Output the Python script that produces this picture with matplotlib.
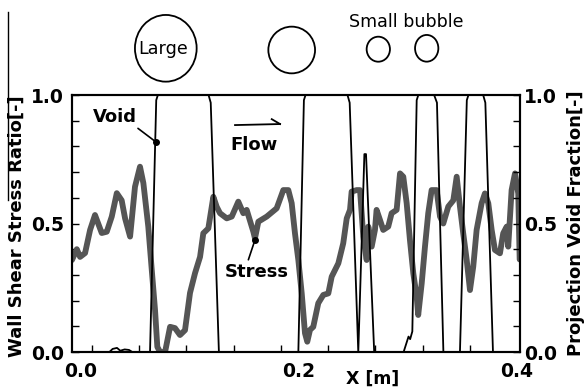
import numpy as np
import matplotlib
matplotlib.use('Agg')
import matplotlib.pyplot as plt
from matplotlib.patches import Ellipse
from matplotlib.lines import Line2D

plt.rcParams['font.family'] = ['DejaVu Sans']
plt.rcParams['font.weight'] = 'bold'

# wall shear stress ratio (grey thick line)
stress_x = [-0.0083, -0.0039, -0.0009, 0.0037, 0.0083, 0.0128, 0.0190, 0.0236, 0.0282, 0.0328,
            0.0373, 0.0404, 0.0450, 0.0495, 0.0541, 0.0572, 0.0617, 0.0649, 0.0679, 0.0700,
            0.0725, 0.0771, 0.0817, 0.0862, 0.0908, 0.0954, 0.1000, 0.1046, 0.1092, 0.1122,
            0.1168, 0.1214, 0.1245, 0.1275, 0.1337, 0.1383, 0.1443, 0.1489, 0.1520, 0.1581,
            0.1596, 0.1627, 0.1704, 0.1795, 0.1856, 0.1902, 0.1933, 0.1963, 0.1994, 0.2025,
            0.2055, 0.2076, 0.2101, 0.2131, 0.2177, 0.2223, 0.2269, 0.2300, 0.2361, 0.2406,
            0.2438, 0.2468, 0.2483, 0.2529, 0.2560, 0.2575, 0.2590, 0.2621, 0.2636, 0.2667,
            0.2697, 0.2712, 0.2743, 0.2773, 0.2819, 0.2850, 0.2896, 0.2927, 0.2957, 0.2988,
            0.3018, 0.3049, 0.3080, 0.3094, 0.3126, 0.3156, 0.3186, 0.3217, 0.3263, 0.3294,
            0.3324, 0.3370, 0.3416, 0.3447, 0.3477, 0.3507, 0.3539, 0.3569, 0.3599, 0.3630,
            0.3676, 0.3706, 0.3737, 0.3768, 0.3798, 0.3844, 0.3874, 0.3906, 0.3920, 0.3951,
            0.3982, 0.4012, 0.4025]
stress_y = [0.358, 0.40, 0.37, 0.385, 0.475, 0.533, 0.463, 0.468, 0.527, 0.618,
            0.59, 0.52, 0.449, 0.643, 0.721, 0.657, 0.488, 0.319, 0.163, 0.02,
            0.0, 0.0, 0.098, 0.093, 0.066, 0.085, 0.23, 0.307, 0.37, 0.462,
            0.481, 0.604, 0.565, 0.54, 0.52, 0.527, 0.585, 0.54, 0.553, 0.468,
            0.442, 0.507, 0.527, 0.559, 0.63, 0.63, 0.579, 0.462, 0.358, 0.228,
            0.073, 0.04, 0.086, 0.098, 0.19, 0.222, 0.228, 0.293, 0.345, 0.423,
            0.52, 0.553, 0.624, 0.63, 0.63, 0.54, 0.449, 0.358, 0.488, 0.41,
            0.475, 0.553, 0.514, 0.475, 0.488, 0.54, 0.553, 0.695, 0.682, 0.579,
            0.436, 0.306, 0.215, 0.144, 0.267, 0.41, 0.54, 0.63, 0.63, 0.527,
            0.50, 0.566, 0.59, 0.682, 0.566, 0.462, 0.358, 0.241, 0.332, 0.475,
            0.579, 0.617, 0.579, 0.475, 0.397, 0.384, 0.462, 0.488, 0.41, 0.63,
            0.695, 0.617, 0.36]

# projection void fraction (black thin line)
void_x = [-0.0083, 0.026, 0.029, 0.033, 0.036, 0.040, 0.044, 0.047, 0.0633, 0.0690,
          0.0705, 0.1170, 0.1190, 0.1265, 0.1994, 0.2045, 0.2060, 0.2445, 0.2465, 0.2544,
          0.2600, 0.2615, 0.2690, 0.2960, 0.2990, 0.3005, 0.3020, 0.3040, 0.3080, 0.3095,
          0.3240, 0.3266, 0.3325, 0.3477, 0.3540, 0.3555, 0.3690, 0.3710, 0.3780, 0.4028]
void_y = [0, 0, 0.012, 0.016, 0.005, 0.01, 0.008, 0, 0, 0.98,
          1.0, 1.0, 0.97, 0, 0, 0.98, 1.0, 1.0, 0.97, 0,
          0.77, 0.77, 0, 0, 0.04, 0.06, 0.05, 0.08, 0.98, 1.0,
          1.0, 0.97, 0, 0, 0.98, 1.0, 1.0, 0.97, 0, 0]

xticks = [0.0, 0.2, 0.4]
xticklabels = ['0.0', '0.2', '0.4']
yticks = [0.0, 0.5, 1.0]
yticklabels = ['0.0', '0.5', '1.0']

# bubble sketch above the plot (pixel coords): x, y, w, h
bubbles = [(165.8, 48.3, 61.7, 66.7), (291.7, 50.0, 46.7, 46.7),
           (378.3, 49.2, 23.3, 25.0), (426.7, 48.3, 23.3, 26.7)]

W, H = 587, 389
fig = plt.figure(figsize=(W / 100, H / 100), dpi=100)
ax = fig.add_axes([72 / W, 37 / H, 448 / W, 257 / H])
ax2 = ax.twinx()

ax.plot(stress_x, stress_y, color='#555555', lw=4.2, solid_joinstyle='round', solid_capstyle='round')
ax2.plot(void_x, void_y, color='black', lw=1.3)

for a in (ax, ax2):
    a.set_xlim(-0.0083, 0.4028)
    a.set_ylim(0, 1)
    for s in a.spines.values():
        s.set_linewidth(1.5)

fs = 13.5
ax.set_xticks(xticks)
ax.set_xticklabels(xticklabels, fontsize=fs)
ax.set_xticks(np.arange(0.0098, 0.4, 0.0434), minor=True)
ax.tick_params(axis='x', which='major', length=0, pad=7)
ax.tick_params(axis='x', which='minor', direction='in', length=5, width=1)

ax.set_yticks(yticks)
ax.set_yticklabels(yticklabels, fontsize=fs)
ax.set_yticks(np.arange(0.1, 1.0, 0.1), minor=True)
ax.tick_params(axis='y', which='both', direction='in', length=5, width=1, pad=6)

ax2.set_yticks(yticks)
ax2.set_yticklabels(yticklabels, fontsize=fs)
ax2.set_yticks(np.arange(0.1, 1.0, 0.1), minor=True)
ax2.tick_params(axis='y', which='both', direction='in', length=5, width=1, pad=3)

ax.text(-0.123, 0.49, 'Wall Shear Stress Ratio[-]', rotation=90, ha='center', va='center',
        fontsize=fs - 0.5, transform=ax.transAxes)
ax.text(1.125, 0.5, 'Projection Void Fraction[-]', rotation=90, ha='center', va='center',
        fontsize=fs - 0.5, transform=ax.transAxes)
ax.text(0.672, -0.07, 'X [m]', ha='center', va='top', fontsize=fs - 1, transform=ax.transAxes)

# annotations
ax2.plot([0.0688], [0.817], 'o', color='black', ms=4)
ax2.annotate('Void', xy=(0.0688, 0.817), xytext=(0.0307, 0.916), ha='center', va='center',
             fontsize=fs - 0.5, arrowprops=dict(arrowstyle='-', color='black', lw=1.2,
                                                shrinkA=0, shrinkB=0, relpos=(0.95, 0.0)))
ax2.plot([0.1596], [0.436], 'o', color='black', ms=4)
ax2.annotate('Stress', xy=(0.1596, 0.436), xytext=(0.1615, 0.313), ha='center', va='center',
             fontsize=fs - 0.5, arrowprops=dict(arrowstyle='-', color='black', lw=1.2,
                                                shrinkA=0, shrinkB=0, relpos=(0.35, 1.0)))
ax2.text(0.1583, 0.805, 'Flow', ha='center', va='center', fontsize=fs - 0.5)
ax2.plot([0.1413, 0.1826], [0.883, 0.887], color='black', lw=1.3)
ax2.plot([0.1750, 0.1826], [0.906, 0.887], color='black', lw=1.3)

# bubble sketch overlay
ov = fig.add_axes([0, 0, 1, 1])
ov.set_xlim(0, W)
ov.set_ylim(H, 0)
ov.axis('off')
ov.patch.set_alpha(0)
for bx, by, bw, bh in bubbles:
    ov.add_patch(Ellipse((bx, by), bw, bh, fill=False, edgecolor='black', lw=1.3))
ov.text(163.5, 48.5, 'Large', ha='center', va='center', fontsize=12.6, fontweight='normal')
ov.text(406, 22, 'Small bubble', ha='center', va='center', fontsize=12.6, fontweight='normal')
ov.add_line(Line2D([7.5, 7.5], [12, 200], color='black', lw=1.0))

fig.savefig('out.png', dpi=100)
